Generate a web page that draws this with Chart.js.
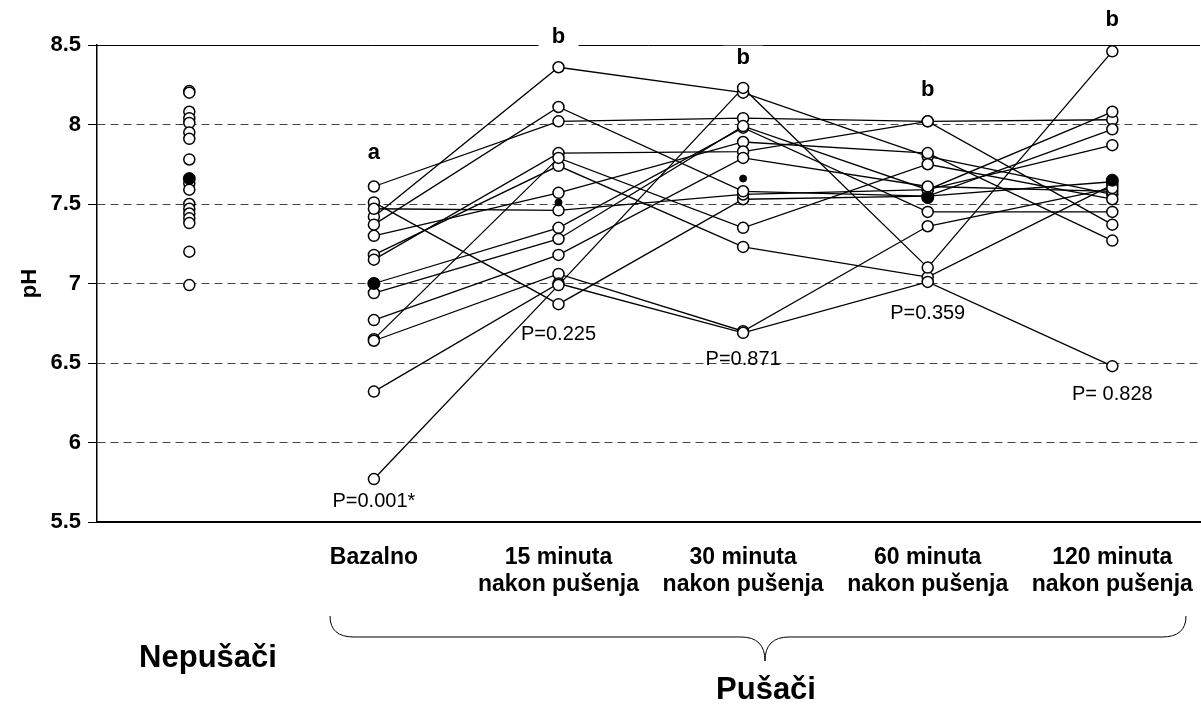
<!DOCTYPE html>
<html>
<head>
<meta charset="utf-8">
<title>pH</title>
<script src="https://cdn.jsdelivr.net/npm/chart.js@4.4.1/dist/chart.umd.min.js"></script>
<style>
  html, body { margin: 0; padding: 0; background: #fff; }
  #phChart { display: block; }
</style>
</head>
<body>
<canvas id="phChart" width="1201" height="704"></canvas>
<script>
const groupLabels = ['', 'Bazalno', ['15 minuta', 'nakon pušenja'], ['30 minuta', 'nakon pušenja'],
  ['60 minuta', 'nakon pušenja'], ['120 minuta', 'nakon pušenja']];
const yTickValues = [5.5, 6, 6.5, 7, 7.5, 8, 8.5];

// nepušači - one measurement each
const nonSmokerPH = [8.21, 8.20, 8.08, 8.04, 8.01, 7.95, 7.91, 7.78, 7.63, 7.59, 7.50, 7.47, 7.44, 7.41, 7.38, 7.20, 6.99];

// pušači - one row per subject: bazalno, 15, 30, 60, 120 min
const smokerPH = [
  [7.42, 8.36, 8.20, 7.80, 7.56],
  [7.61, 8.02, 8.04, 8.02, 8.03],
  [7.51, 6.87, 7.53, 7.55, 7.64],
  [7.47, 7.46, 7.56, 7.59, 7.87],
  [7.37, 8.11, 7.58, 7.55, 7.97],
  [7.30, 7.57, 7.89, 7.82, 7.27],
  [7.18, 7.74, 7.23, 7.04, 7.62],
  [7.15, 7.82, 7.83, 8.02, 7.37],
  [7.00, 7.35, 7.98, 7.45, 7.45],
  [6.94, 7.28, 7.99, 7.59, 8.08],
  [6.77, 7.18, 7.79, 7.61, 7.58],
  [6.65, 7.79, 7.35, 7.75, 7.53],
  [6.64, 7.06, 6.70, 7.36, 7.60],
  [6.32, 7.00, 6.69, 7.01, 6.48],
  [5.77, 6.99, 8.23, 7.10, 8.46]
];

const groupMeans = [7.66, 7.00, 7.51, 7.66, 7.54, 7.65];
const pLabels = ['P=0.001*', 'P=0.225', 'P=0.871', 'P=0.359', 'P= 0.828'];
const sigLetters = ['a', 'b', 'b', 'b', 'b'];

const FONT = '"Liberation Sans", Arial, sans-serif';
Chart.defaults.font.family = FONT;
Chart.defaults.color = '#000';

// where the text annotations sit (pH units, per smoker column)
const pLabelY = [5.63, 6.68, 6.52, 6.81, 6.30];
const letterY = [7.82, 8.55, 8.42, 8.22, 8.66];

const annotations = {
  id: 'annotations',
  beforeDatasetsDraw(chart) {
    const { ctx, chartArea } = chart;
    const y = chart.scales.y.getPixelForValue(8.5);
    ctx.save();
    ctx.strokeStyle = '#000';
    ctx.lineWidth = 1;
    ctx.beginPath();
    ctx.moveTo(chartArea.left, Math.round(y) + 0.5);
    ctx.lineTo(chartArea.right, Math.round(y) + 0.5);
    ctx.stroke();
    ctx.restore();
  },
  afterDraw(chart) {
    const { ctx } = chart;
    const xs = chart.scales.x, ys = chart.scales.y;
    ctx.save();
    ctx.textAlign = 'center';
    ctx.textBaseline = 'middle';

    ctx.font = '20px ' + FONT;
    pLabels.forEach((t, i) => {
      ctx.fillText(t, xs.getPixelForValue(i + 1), ys.getPixelForValue(pLabelY[i]));
    });

    ctx.font = 'bold 22px ' + FONT;
    sigLetters.forEach((t, i) => {
      const x = xs.getPixelForValue(i + 1), y = ys.getPixelForValue(letterY[i]);
      ctx.fillStyle = '#fff';
      ctx.fillRect(x - 20, y - 12, 40, 24);
      ctx.fillStyle = '#000';
      ctx.fillText(t, x, y);
    });

    // y axis title
    ctx.save();
    ctx.translate(30, ys.getPixelForValue(7));
    ctx.rotate(-Math.PI / 2);
    ctx.font = 'bold 22px ' + FONT;
    ctx.fillText('pH', 0, 0);
    ctx.restore();

    // group titles and the brace under the smoker columns
    ctx.font = 'bold 31px ' + FONT;
    ctx.fillText('Nepušači', 208, 658);
    ctx.fillText('Pušači', 766, 690);

    const L = 330, R = 1186, C = 765, top = 616, mid = 637, tip = 661, r = 24;
    ctx.strokeStyle = '#000';
    ctx.lineWidth = 1;
    ctx.beginPath();
    ctx.moveTo(L, top);
    ctx.quadraticCurveTo(L, mid, L + r, mid);
    ctx.lineTo(C - r, mid);
    ctx.quadraticCurveTo(C, mid, C, tip);
    ctx.quadraticCurveTo(C, mid, C + r, mid);
    ctx.lineTo(R - r, mid);
    ctx.quadraticCurveTo(R, mid, R, top);
    ctx.stroke();
    ctx.restore();
  }
};

const subjectLines = smokerPH.map(row => ({
  data: row.map((v, i) => ({ x: i + 1, y: v })),
  showLine: true,
  borderColor: '#000',
  borderWidth: 1.3,
  pointRadius: 0,
  order: 3
}));

const openPoints = {
  data: nonSmokerPH.map(v => ({ x: 0, y: v }))
    .concat(smokerPH.flatMap(row => row.map((v, i) => ({ x: i + 1, y: v })))),
  pointRadius: 5.5,
  pointBackgroundColor: '#fff',
  pointBorderColor: '#000',
  pointBorderWidth: 1.5,
  order: 2
};

const meanPoints = {
  data: groupMeans.map((v, i) => ({ x: i, y: v })),
  pointRadius: ctx => (ctx.dataIndex === 2 || ctx.dataIndex === 3) ? 3.5 : 6,
  pointBackgroundColor: '#000',
  pointBorderColor: '#000',
  pointBorderWidth: 1,
  order: 1
};

new Chart(document.getElementById('phChart'), {
  type: 'scatter',
  data: { datasets: [meanPoints, openPoints, ...subjectLines] },
  plugins: [annotations],
  options: {
    responsive: false,
    animation: false,
    layout: { autoPadding: false, padding: { top: 45, right: 1, left: 0, bottom: 0 } },
    plugins: { legend: { display: false }, tooltip: { enabled: false } },
    scales: {
      x: {
        type: 'linear',
        min: -0.5,
        max: 5.475,
        afterBuildTicks: s => { s.ticks = groupLabels.map((_, i) => ({ value: i })); },
        afterFit: s => { s.height = 182; s.paddingLeft = 0; s.paddingRight = 0; },
        grid: { display: false, drawTicks: false },
        border: { display: true, color: '#000', width: 2 },
        ticks: {
          callback: v => groupLabels[v],
          autoSkip: false,
          maxRotation: 0,
          padding: 22,
          font: { size: 23, weight: 'bold', lineHeight: 1.17 }
        }
      },
      y: {
        min: 5.5,
        max: 8.5,
        afterBuildTicks: s => { s.ticks = yTickValues.map(v => ({ value: v })); },
        afterFit: s => { s.width = 97; s.paddingTop = 0; s.paddingBottom = 0; },
        grid: {
          color: ctx => (ctx.tick && (ctx.tick.value === 5.5 || ctx.tick.value === 8.5)) ? 'rgba(0,0,0,0)' : '#444',
          lineWidth: 1,
          tickColor: '#000',
          tickLength: 9,
          tickBorderDash: []
        },
        border: { display: true, color: '#000', width: 1.5, dash: [8, 5] },
        ticks: {
          callback: v => String(v),
          padding: 7,
          font: { size: 22, weight: 'bold' }
        }
      }
    }
  }
});
</script>
</body>
</html>
